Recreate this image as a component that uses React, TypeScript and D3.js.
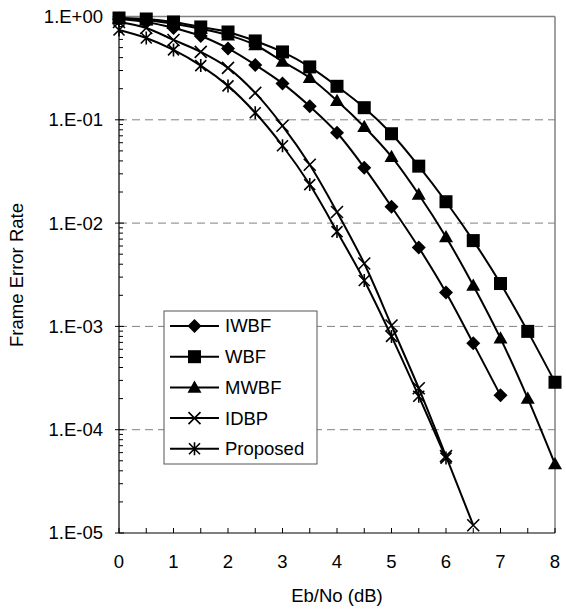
import React from "react";
import * as d3 from "d3";

const snr = [0, 0.5, 1, 1.5, 2, 2.5, 3, 3.5, 4, 4.5, 5, 5.5, 6, 6.5, 7, 7.5, 8];
const iwbf = [0.946, 0.885, 0.774, 0.648, 0.491, 0.34, 0.225, 0.135, 0.0749, 0.0344, 0.0144, 0.0058, 0.00213, 0.000685, 0.000215];
const wbf = [0.967, 0.946, 0.885, 0.792, 0.708, 0.58, 0.454, 0.325, 0.211, 0.131, 0.0733, 0.0356, 0.0161, 0.00677, 0.0026, 0.000895, 0.000288];
const mwbf = [0.955, 0.925, 0.85, 0.76, 0.66, 0.53, 0.367, 0.255, 0.153, 0.0856, 0.0439, 0.0189, 0.00733, 0.00249, 0.000766, 0.000201, 0.0000465];
const idbp = [0.885, 0.774, 0.593, 0.454, 0.318, 0.182, 0.0875, 0.0367, 0.0128, 0.00406, 0.00102, 0.000252, 0.0000555, 0.0000119];
const proposed = [0.741, 0.62, 0.475, 0.335, 0.213, 0.117, 0.0561, 0.0236, 0.00828, 0.00278, 0.0008, 0.000211, 0.0000531];

const seriesNames = ["IWBF", "WBF", "MWBF", "IDBP", "Proposed"];
const seriesValues = [iwbf, wbf, mwbf, idbp, proposed];
const seriesMarkers = ["diamond", "square", "triangle", "x", "star"];

const yTickValues = [1, 1e-1, 1e-2, 1e-3, 1e-4, 1e-5];
const yTickLabels = ["1.E+00", "1.E-01", "1.E-02", "1.E-03", "1.E-04", "1.E-05"];
const xTickValues = [0, 1, 2, 3, 4, 5, 6, 7, 8];

const W = 566;
const H = 612;
const L = 119, R = 555, T = 16.5, B = 533;
const FONT = "'Liberation Sans', Arial, sans-serif";
const FS = 18.5;

function Marker({ type, x, y }: { type: string; x: number; y: number }) {
  if (type === "square") {
    const s = 6.5;
    return <rect x={x - s} y={y - s} width={2 * s} height={2 * s} fill="#000" />;
  }
  if (type === "diamond") {
    const s = 7;
    return <path d={`M${x},${y - s}L${x + s},${y}L${x},${y + s}L${x - s},${y}Z`} fill="#000" />;
  }
  if (type === "triangle") {
    const s = 7;
    return <path d={`M${x},${y - s}L${x + s},${y + s * 0.75}L${x - s},${y + s * 0.75}Z`} fill="#000" />;
  }
  if (type === "x") {
    const s = 6;
    return (
      <path d={`M${x - s},${y - s}L${x + s},${y + s}M${x - s},${y + s}L${x + s},${y - s}`} stroke="#000" strokeWidth={1.6} fill="none" />
    );
  }
  const s = 5.5;
  return (
    <path
      d={`M${x - s},${y - s}L${x + s},${y + s}M${x - s},${y + s}L${x + s},${y - s}M${x},${y - s - 1}L${x},${y + s + 1}`}
      stroke="#000"
      strokeWidth={1.6}
      fill="none"
    />
  );
}

export default function App() {
  const x = d3.scaleLinear().domain([0, 8]).range([L, R]);
  const y = d3.scaleLog().domain([1e-5, 1]).range([B, T]);
  const line = d3
    .line<[number, number]>()
    .x((d) => x(d[0]))
    .y((d) => y(d[1]))
    .curve(d3.curveCatmullRom.alpha(0.5));

  const minorTicks: number[] = [];
  for (let e = -5; e < 0; e++) {
    for (let k = 2; k <= 9; k++) minorTicks.push(k * Math.pow(10, e));
  }
  const xMinor = d3.range(0, 8.01, 0.5);

  const legendX = 164, legendY = 311, legendW = 153, legendH = 153;
  const rowY = (i: number) => 326 + i * 30.7;

  return (
    <svg width={W} height={H} style={{ position: "absolute", left: 0, top: 0, background: "#fff" }} fontFamily={FONT}>
      <rect x={0} y={0} width={W} height={H} fill="#fff" />
      {yTickValues.slice(1, 5).map((v) => (
        <line key={v} x1={L} x2={R} y1={y(v)} y2={y(v)} stroke="#808080" strokeWidth={1} strokeDasharray="8,5" />
      ))}
      <line x1={L} x2={R} y1={T} y2={T} stroke="#808080" strokeWidth={1.5} />
      <line x1={R} x2={R} y1={T} y2={B} stroke="#808080" strokeWidth={1.5} />
      {seriesValues.map((vals, i) => {
        const pts: [number, number][] = vals.map((v, j) => [snr[j], v]);
        return <path key={i} d={line(pts) || ""} fill="none" stroke="#000" strokeWidth={2} />;
      })}
      {seriesValues.map((vals, i) =>
        vals.map((v, j) => <Marker key={`${i}-${j}`} type={seriesMarkers[i]} x={x(snr[j])} y={y(v)} />)
      )}
      <line x1={L} x2={L} y1={T} y2={B} stroke="#000" strokeWidth={1.2} />
      <line x1={L} x2={R} y1={B} y2={B} stroke="#000" strokeWidth={1.2} />
      {minorTicks.map((v) => (
        <line key={v} x1={L} x2={L + 4} y1={y(v)} y2={y(v)} stroke="#000" strokeWidth={1} />
      ))}
      {yTickValues.map((v) => (
        <line key={v} x1={L - 4} x2={L + 5} y1={y(v)} y2={y(v)} stroke="#000" strokeWidth={1} />
      ))}
      {xMinor.map((v) => (
        <line key={v} x1={x(v)} x2={x(v)} y1={B} y2={B - 5} stroke="#000" strokeWidth={1} />
      ))}
      {yTickValues.map((v, i) => (
        <text key={v} x={103} y={y(v)} dy="0.35em" textAnchor="end" fontSize={FS} fill="#000">
          {yTickLabels[i]}
        </text>
      ))}
      {xTickValues.map((v) => (
        <text key={v} x={x(v)} y={562} dy="0.35em" textAnchor="middle" fontSize={FS} fill="#000">
          {v}
        </text>
      ))}
      <text x={337} y={596} dy="0.35em" textAnchor="middle" fontSize={FS} fill="#000">
        Eb/No (dB)
      </text>
      <text transform={`translate(17,275) rotate(-90)`} dy="0.35em" textAnchor="middle" fontSize={FS} fill="#000">
        Frame Error Rate
      </text>
      <rect x={legendX} y={legendY} width={legendW} height={legendH} fill="#fff" stroke="#555" strokeWidth={1} />
      {seriesNames.map((n, i) => (
        <g key={n}>
          <line x1={170} x2={219} y1={rowY(i)} y2={rowY(i)} stroke="#000" strokeWidth={2} />
          <Marker type={seriesMarkers[i]} x={194.5} y={rowY(i)} />
          <text x={225} y={rowY(i)} dy="0.35em" fontSize={FS} fill="#000">
            {n}
          </text>
        </g>
      ))}
    </svg>
  );
}
